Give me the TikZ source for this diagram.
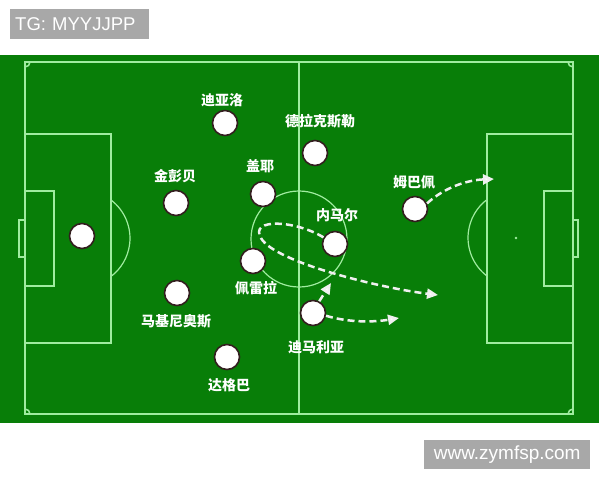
\documentclass[tikz,border=0pt]{standalone}
\usepackage{fontspec}
\setmainfont{Liberation Sans}
\newfontfamily\cjk{Noto Sans CJK SC}
\usetikzlibrary{arrows.meta}
\definecolor{pitch}{RGB}{8,126,8}
\definecolor{pline}{RGB}{160,236,160}
\definecolor{boxgray}{RGB}{168,168,168}
\definecolor{ring}{RGB}{50,30,30}
\tikzset{
  fieldline/.style={draw=pline, line width=1.5},
  player/.style={circle, fill=white, draw=ring, line width=1.6, minimum size=25, inner sep=0},
  lbl/.style={text=white, font=\cjk\bfseries\fontsize{14}{15}\selectfont, inner sep=0},
  run/.style={draw=white!94!black, line width=2.5, dash pattern=on 7 off 4,
    -{Triangle[length=11,width=10,fill=white]}},
}
\begin{document}
\begin{tikzpicture}[x=1pt,y=-1pt]
\useasboundingbox (0,0) rectangle (600,480);
% background
\fill[pitch] (0,55) rectangle (599,423);
% pitch lines
\draw[fieldline] (25,62) rectangle (573,414);
\draw[fieldline] (299,62) -- (299,414);
\draw[fieldline, line width=1.2] (299,239) circle[radius=48];
% left side
\draw[fieldline] (25,134) rectangle (111,343);
\draw[fieldline] (25,191) rectangle (54,286);
\draw[fieldline] (19,220) rectangle (25,257);
\draw[fieldline, line width=1.2] (111,200) arc[start angle=-52.8, end angle=52.8, radius=48];
% right side
\draw[fieldline] (487,134) rectangle (573,343);
\draw[fieldline] (544,191) rectangle (573,286);
\draw[fieldline] (573,220) rectangle (578,257);
\draw[fieldline, line width=1.2] (487,276) arc[start angle=127.2, end angle=232.8, radius=48];
\fill[pline] (516,238) circle[radius=1.3];
% corner arcs
\draw[fieldline] (30,62) arc[start angle=0, end angle=90, radius=5];
\draw[fieldline] (568,62) arc[start angle=180, end angle=90, radius=5];
\draw[fieldline] (30,414) arc[start angle=0, end angle=-90, radius=5];
\draw[fieldline] (568,414) arc[start angle=180, end angle=270, radius=5];
% players
\node[player] (gk) at (82,236) {};
\node[player] (diallo) at (225,123) {};
\node[player] (kimpembe) at (176,203) {};
\node[player] (gueye) at (263,194) {};
\node[player] (draxler) at (315,153) {};
\node[player] (mbappe) at (415,209) {};
\node[player] (neymar) at (335,244) {};
\node[player] (paredes) at (253,261) {};
\node[player] (marquinhos) at (177,293) {};
\node[player] (dagba) at (227,357) {};
\node[player] (dimaria) at (313,313) {};
% labels
\node[lbl] (ldiallo) at (222,100) {迪亚洛};
\node[lbl] (lkimpembe) at (175,176) {金彭贝};
\node[lbl] (lgueye) at (260,166) {盖耶};
\node[lbl] (ldraxler) at (320,121) {德拉克斯勒};
\node[lbl] (lmbappe) at (414,182) {姆巴佩};
\node[lbl] (lneymar) at (337,215) {内马尔};
\node[lbl] (lparedes) at (256,288) {佩雷拉};
\node[lbl] (lmarquinhos) at (176,321) {马基尼奥斯};
\node[lbl] (ldagba) at (229,385) {达格巴};
\node[lbl] (ldimaria) at (316,347) {迪马利亚};
% runs
\coordinate (e1) at (494,179);
\coordinate (e2) at (399,318);
\coordinate (e3) at (331,283);
\coordinate (e4) at (438,295);
\coordinate (loopl) at (261,238);
\draw[run] (mbappe.25) .. controls (445,187) and (468,180) .. (e1);
\draw[run] (dimaria.-12) .. controls (350,323) and (375,322) .. (e2);
\draw[run] (dimaria.62) -- (e3);
\draw[run] (neymar.150) .. controls (295,220) and (249,218) .. (loopl)
  .. controls (274,262) and (380,288) .. (e4);
% watermark boxes
\node[fill=boxgray, anchor=north west, minimum height=30, text width=129, inner xsep=5,
  align=left, text=white, font=\fontsize{18.5}{20}\selectfont] (tg) at (10,9) {TG: MYYJJPP};
\node[fill=boxgray, anchor=north west, minimum height=29, minimum width=166, inner xsep=0,
  text=white, font=\fontsize{19}{20}\selectfont] (site) at (424,440) {www.zymfsp.com};
\end{tikzpicture}
\end{document}
